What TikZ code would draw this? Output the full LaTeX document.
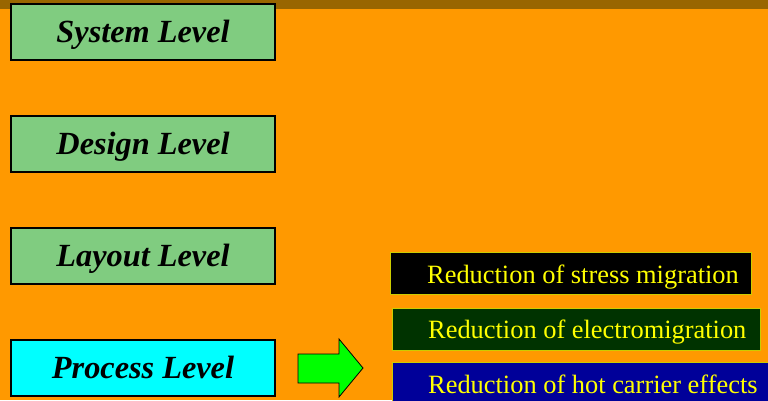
\documentclass[tikz,border=0pt]{standalone}
\usepackage{fontspec}
\setmainfont{Liberation Serif}
\definecolor{bg}{HTML}{FF9900}
\definecolor{band}{HTML}{996600}
\definecolor{lvgreen}{RGB}{128,204,128}
\definecolor{procyan}{HTML}{00FFFF}
\definecolor{txtyellow}{HTML}{FFFF00}
\definecolor{darkgr}{HTML}{003300}
\definecolor{navy}{HTML}{000099}
\definecolor{arrgreen}{HTML}{00FF00}
\begin{document}
\begin{tikzpicture}[x=1pt,y=-1pt,
  levelbox/.style={draw=black,line width=2pt,fill=lvgreen,minimum width=264pt,minimum height=56pt,inner sep=0pt,
    text height=21pt,text depth=0pt,font=\fontsize{32.3}{36}\selectfont\bfseries\itshape},
  resbox/.style={draw=txtyellow!80!black,line width=1pt,minimum height=42pt,inner sep=0pt,anchor=north west},
  restext/.style={text=txtyellow,anchor=base west,inner sep=0pt,font=\fontsize{26.4}{30}\selectfont}]
\useasboundingbox[clip] (0,0) rectangle (768,400);
% background and top band
\fill[bg] (0,0) rectangle (768,400);
\fill[band] (0,0) rectangle (768,9);
% design levels
\node[levelbox] (sys) at (143,32) {System Level};
\node[levelbox] (des) at (143,144) {Design Level};
\node[levelbox] (lay) at (143,256) {Layout Level};
\node[levelbox,fill=procyan] (pro) at (143,368) {Process Level};
% block arrow
\draw[fill=arrgreen,line width=0.8pt,line join=miter] (298,354) -- (339,354) -- (339,339) -- (363,368)
  -- (339,397) -- (339,383) -- (298,383) -- cycle;
% process-level measures
\node[resbox,fill=black,minimum width=361pt] (r1) at (390,252) {};
\node[restext] (t1) at (427,283) {Reduction of stress migration};
\node[resbox,fill=darkgr,minimum width=368pt] (r2) at (392,308) {};
\node[restext] (t2) at (428,338) {Reduction of electromigration};
\node[resbox,fill=navy,minimum width=400pt,minimum height=50pt] (r3) at (392,362) {};
\node[restext] (t3) at (428,393) {Reduction of hot carrier effects};
\end{tikzpicture}
\end{document}
